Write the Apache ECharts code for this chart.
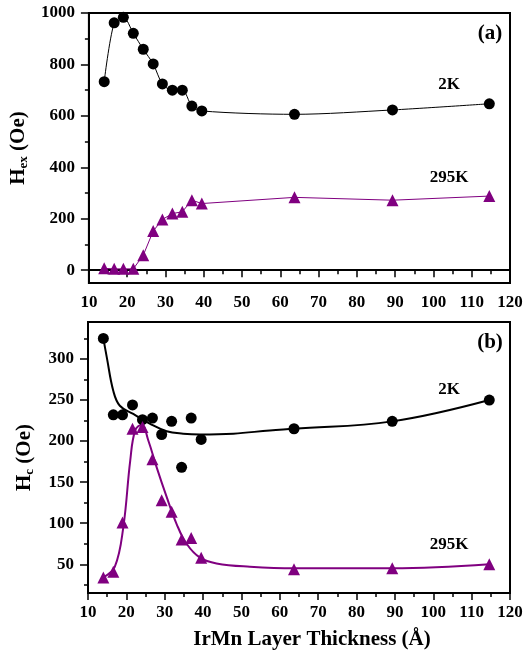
<!DOCTYPE html>
<html>
<head>
    <meta charset="UTF-8">
    <title>IrMn Hex / Hc</title>
    <script src="https://cdn.jsdelivr.net/npm/echarts@6/dist/echarts.min.js"></script>
</head>
<body style="margin:0;background:#fff;">
    <div id="main" style="width:527px;height:658px;"></div>

    <script>
        // IrMn layer thickness (Å) of the samples
        var thickness = [14.0, 16.6, 19.0, 21.6, 24.2, 26.8, 29.2, 31.8, 34.4, 36.9, 39.5, 63.7, 89.3, 114.6];

        // (a) exchange bias field
        var hex2K = [733, 962, 983, 921, 859, 802, 724, 700, 700, 638, 619, 606, 623, 647];
        var hex295K = [7, 5, 5, 5, 58, 152, 197, 220, 227, 272, 259, 283, 272, 288];

        // (b) coercivity
        var hc2K = [325, 232, 232, 244, 226, 228, 208, 224, 168, 228, 202, 215, 224, 250];
        var hc295K = [34, 41, 101, 215, 217, 178, 128, 114, 80, 82, 58, 44, 45, 50];

        // guide-to-the-eye curves in (b)
        var fit2Kx = [14.0, 14.9, 16.6, 18.3, 21.8, 26.2, 30.5, 34.8, 39.2, 47.9, 57.4, 63.7, 89.3, 114.6];
        var fit2Ky = [325, 302, 261, 243, 233, 221, 212, 209, 208, 209, 213, 215, 224, 250];
        var fit295Kx = [14.0, 17.0, 19.2, 21.0, 22.3, 24.0, 25.7, 27.9, 30.5, 33.1, 35.7, 39.2, 43.5, 52.2, 63.7, 89.3, 114.6];
        var fit295Ky = [34, 47, 95, 176, 213, 220, 201, 168, 132, 99, 75, 58, 51, 47, 45, 45, 50];

        var hexLabels = [0, 200, 400, 600, 800, 1000];
        var hexMinor = [100, 300, 500, 700, 900];
        var hcLabels = [50, 100, 150, 200, 250, 300];
        var hcMinor = [25, 75, 125, 175, 225, 275, 325];

        function pairs(xs, ys) {
            return xs.map(function (x, i) { return [x, ys[i]]; });
        }

        var FONT = 'Liberation Serif';
        var PURPLE = '#800080';

        function xAxisOf(gi, name) {
            return {
                type: 'value', gridIndex: gi, min: 10, max: 120, interval: 10,
                name: name, nameLocation: 'middle', nameGap: 36,
                nameTextStyle: { fontFamily: FONT, fontWeight: 'bold', fontSize: 21, color: '#000', padding: [0, 0, 0, 26] },
                axisLine: { lineStyle: { color: '#000', width: 2 } },
                axisTick: { length: 7, lineStyle: { color: '#000', width: 1.5 } },
                minorTick: { show: true, splitNumber: 2, length: 4, lineStyle: { color: '#000', width: 1.5 } },
                axisLabel: { margin: 11, fontFamily: FONT, fontWeight: 'bold', fontSize: 17, color: '#000' },
                splitLine: { show: false }
            };
        }

        function yAxisOf(gi, min, max, labels, name) {
            return {
                type: 'value', gridIndex: gi, min: min, max: max,
                name: name, nameLocation: 'middle', nameGap: 52,
                nameTextStyle: {
                    rich: {
                        m: { fontFamily: FONT, fontWeight: 'bold', fontSize: 21, color: '#000' },
                        s: { fontFamily: FONT, fontWeight: 'bold', fontSize: 13, color: '#000', verticalAlign: 'bottom', padding: [10, 0, 0, 0] }
                    }
                },
                axisLine: { onZero: false, lineStyle: { color: '#000', width: 2 } },
                axisTick: { customValues: labels, length: 8, lineStyle: { color: '#000', width: 1.5 } },
                axisLabel: {
                    customValues: labels, margin: 14, fontFamily: FONT, fontWeight: 'bold', fontSize: 17, color: '#000',
                    formatter: function (v) { return String(v); }
                },
                splitLine: { show: false }
            };
        }

        function minorAxisOf(gi, min, max, ticks) {
            return {
                type: 'value', gridIndex: gi, min: min, max: max, position: 'left',
                axisLine: { show: false },
                axisTick: { customValues: ticks, length: 4, lineStyle: { color: '#000', width: 1.5 } },
                axisLabel: { show: false },
                splitLine: { show: false }
            };
        }

        function textAt(x, y, s, size) {
            return {
                type: 'text', x: x, y: y,
                style: { text: s, fontFamily: FONT, fontWeight: 'bold', fontSize: size, fill: '#000', align: 'center', verticalAlign: 'middle' }
            };
        }

        var myChart = echarts.init(document.getElementById('main'));

        var option = {
            backgroundColor: '#fff',
            animation: false,
            grid: [
                { left: 88, right: 17, top: 13, height: 270, show: true, borderColor: '#000', borderWidth: 2 },
                { left: 88, right: 17, top: 322, height: 271, show: true, borderColor: '#000', borderWidth: 2 }
            ],
            xAxis: [
                xAxisOf(0, ''),
                xAxisOf(1, 'IrMn Layer Thickness (Å)')
            ],
            yAxis: [
                yAxisOf(0, -50, 1000, hexLabels, '{m|H}{s|ex}{m| (Oe)}'),
                minorAxisOf(0, -50, 1000, hexMinor),
                yAxisOf(1, 15, 345, hcLabels, '{m|H}{s|c}{m| (Oe)}'),
                minorAxisOf(1, 15, 345, hcMinor)
            ],
            graphic: [
                textAt(490, 34, '(a)', 21),
                textAt(449, 85, '2K', 17),
                textAt(449, 178, '295K', 17),
                textAt(490, 343, '(b)', 21),
                textAt(449, 390, '2K', 17),
                textAt(449, 545, '295K', 17)
            ],
            series: [
                {
                    name: '2K (a)', type: 'line', xAxisIndex: 0, yAxisIndex: 0,
                    data: pairs(thickness, hex2K), smooth: 0.3,
                    symbol: 'circle', symbolSize: 11,
                    lineStyle: { color: '#000', width: 1 },
                    itemStyle: { color: '#000' }
                },
                {
                    name: '295K (a)', type: 'line', xAxisIndex: 0, yAxisIndex: 0,
                    data: pairs(thickness, hex295K),
                    symbol: 'triangle', symbolSize: 12,
                    lineStyle: { color: PURPLE, width: 1 },
                    itemStyle: { color: PURPLE }
                },
                {
                    name: '2K fit', type: 'line', xAxisIndex: 1, yAxisIndex: 2,
                    data: pairs(fit2Kx, fit2Ky), smooth: 0.4, showSymbol: false,
                    lineStyle: { color: '#000', width: 2 }, z: 1
                },
                {
                    name: '295K fit', type: 'line', xAxisIndex: 1, yAxisIndex: 2,
                    data: pairs(fit295Kx, fit295Ky), smooth: 0.4, showSymbol: false,
                    lineStyle: { color: PURPLE, width: 2 }, z: 1
                },
                {
                    name: '2K (b)', type: 'scatter', xAxisIndex: 1, yAxisIndex: 2,
                    data: pairs(thickness, hc2K),
                    symbol: 'circle', symbolSize: 11,
                    itemStyle: { color: '#000', opacity: 1 }, z: 3
                },
                {
                    name: '295K (b)', type: 'scatter', xAxisIndex: 1, yAxisIndex: 2,
                    data: pairs(thickness, hc295K),
                    symbol: 'triangle', symbolSize: 12,
                    itemStyle: { color: PURPLE, opacity: 1 }, z: 3
                }
            ]
        };

        myChart.setOption(option);
    </script>
</body>
</html>
